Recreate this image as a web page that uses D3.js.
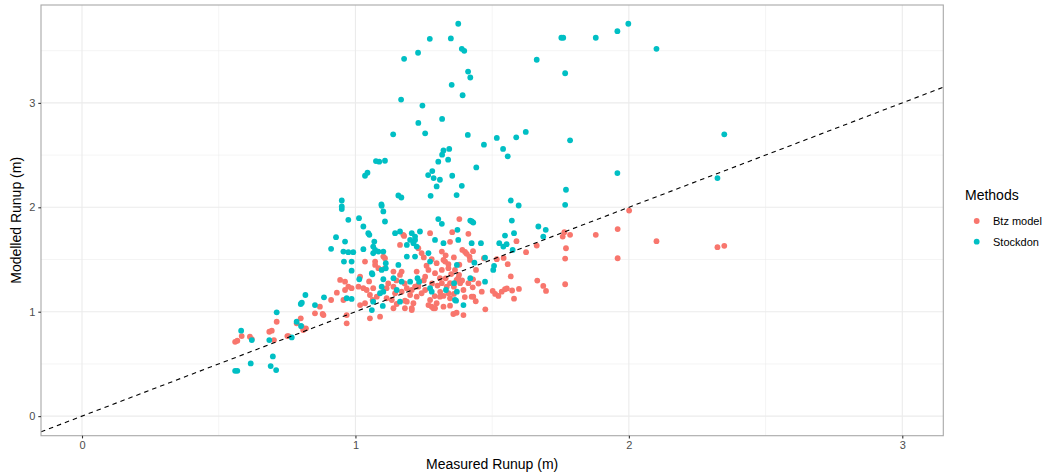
<!DOCTYPE html>
<html><head><meta charset="utf-8">
<script src="https://cdn.jsdelivr.net/npm/d3@7"></script>
<style>body{margin:0;background:#fff}svg{display:block;font-family:"Liberation Sans",Arial,sans-serif}</style>
</head><body><svg id="c" width="1047" height="475"></svg>
<script>
const seriesNames = ["Btz model", "Stockdon"];
const seriesColors = ["#F8766D", "#00BFC4"];
const xTicks = [0, 1, 2, 3];
const yTicks = [0, 1, 2, 3];
const xLimits = [0, 3];
const yLimits = [0, 3.75];
const xTitle = "Measured Runup (m)";
const yTitle = "Modelled Runup (m)";
const legendTitle = "Methods";

// [measured, modelled]
const btzPoints = [[2.001,1.969],[1.959,1.791],[1.959,1.512],[2.101,1.676],[2.324,1.618],[2.349,1.631],[1.879,1.736],[1.785,1.736],[1.758,1.720],[1.764,1.762],[1.770,1.608],[1.767,1.509],[1.767,1.263],[1.665,1.298],[1.687,1.247],[1.697,1.199],[1.663,1.633],[1.589,1.676],[1.624,1.570],[1.557,1.455],[1.542,1.515],[1.517,1.503],[1.568,1.338],[1.470,1.512],[1.441,1.400],[1.502,1.199],[1.511,1.170],[1.523,1.151],[1.535,1.192],[1.547,1.215],[1.554,1.223],[1.573,1.203],[1.580,1.125],[1.598,1.218],[1.475,1.023],[1.395,0.968],[1.358,0.978],[1.370,0.990],[1.425,1.144],[1.431,1.144],[1.462,1.192],[1.380,1.887],[1.413,1.746],[1.354,1.762],[1.346,1.669],[1.391,1.592],[1.401,1.573],[1.407,1.554],[1.417,1.528],[1.379,1.353],[1.370,1.304],[1.383,1.273],[1.395,1.208],[1.429,1.234],[1.413,1.273],[1.322,1.151],[1.346,1.129],[1.322,1.048],[1.285,1.033],[1.297,1.081],[1.322,1.496],[1.297,1.465],[1.316,1.400],[1.340,1.417],[1.291,1.369],[1.309,1.321],[1.346,1.273],[1.316,1.576],[1.273,1.752],[1.230,1.608],[1.242,1.560],[1.279,1.503],[1.328,1.480],[1.340,1.455],[1.419,1.496],[1.364,1.400],[1.376,1.321],[1.346,1.058],
[1.230,1.240],[1.242,1.177],[1.255,1.208],[1.224,1.144],[1.267,1.064],[1.279,1.048],[1.291,1.033],[1.273,1.112],[1.255,1.336],[1.267,1.400],[1.316,1.273],[1.334,1.240],[1.340,1.177],[1.309,1.144],
[1.175,1.736],[1.163,1.640],[1.035,1.480],[1.072,1.480],[1.108,1.512],[1.084,1.417],[1.108,1.417],[1.139,1.384],[1.169,1.384],[0.944,1.304],[0.962,1.288],[0.974,1.240],[0.962,1.208],[0.986,1.225],[1.011,1.240],[1.029,1.225],[1.041,1.208],[1.065,1.225],[1.053,1.160],[1.078,1.144],[1.114,1.225],[1.139,1.240],[1.145,1.177],[1.169,1.192],[1.188,1.225],[1.206,1.208],[1.218,1.240],[1.230,1.256],[0.956,1.112],[1.114,1.129],[1.133,1.112],[1.188,1.096],[1.212,1.081],[1.139,1.033],[1.181,1.033],[1.206,1.033],[0.968,0.968],[1.053,0.937],[1.090,0.952],[1.035,1.081],[1.017,1.336],
[1.072,1.448],[1.102,1.528],[1.163,1.352],[1.178,1.726],[1.224,1.384],[0.932,1.182],[0.968,0.889],[1.017,1.064],[1.063,1.112],[1.151,1.074],[1.181,1.106],[1.206,1.016],[0.870,1.048],[0.880,0.978],[0.852,0.985],[0.911,1.112],[0.785,0.889],[0.804,0.856],[0.809,0.824],[0.751,0.767],
[0.883,0.968],[0.800,0.937],[0.819,0.841],[0.712,0.904],[0.685,0.808],[0.694,0.818],[0.702,0.728],[0.755,0.767],[0.614,0.760],[0.621,0.738],[0.584,0.767],[0.560,0.712],[0.568,0.722],
[1.250,1.300],[1.280,1.270],[1.300,1.250],[1.330,1.320],[1.360,1.240],[1.390,1.300],[1.430,1.310],[1.450,1.270],[1.350,1.360],[1.260,1.440],[1.310,1.190],[1.290,1.150],[1.360,1.170],[1.400,1.140],[1.440,1.100],[1.200,1.160],[1.180,1.270],[1.150,1.300],[1.120,1.270],[1.050,1.290],[1.330,1.540],[1.360,1.520],[1.380,1.450],[1.250,1.520],[1.430,1.580]];

const stockdonPoints = [[1.376,3.758],[1.272,3.614],[1.349,3.617],[1.389,3.518],[1.398,3.499],[1.229,3.480],[1.178,3.422],[1.663,3.413],[1.753,3.624],[1.760,3.624],[1.879,3.624],[1.958,3.687],[1.998,3.758],[2.101,3.518],[1.767,3.284],[1.412,3.300],[1.420,3.243],[1.352,3.173],[1.392,3.073],[1.167,3.032],[1.245,2.974],[1.317,2.846],[1.230,2.808],[1.138,2.699],[1.255,2.708],[1.411,2.693],[1.470,2.600],[1.517,2.664],[1.588,2.670],[1.623,2.722],[1.540,2.559],[1.557,2.488],[1.785,2.641],[2.349,2.699],[1.343,2.559],[1.322,2.545],[1.317,2.504],[1.303,2.437],[1.339,2.456],[1.075,2.443],[1.087,2.437],[1.108,2.446],[1.035,2.302],[1.044,2.331],[1.442,2.382],[1.266,2.309],[1.281,2.347],[1.354,2.302],[1.958,2.328],[2.324,2.280],[1.286,2.280],[1.309,2.264],[1.297,2.200],[1.389,2.206],[1.370,2.117],[1.275,2.110],[1.157,2.113],[1.168,2.094],[1.095,2.027],[0.950,2.065],[1.770,2.168],[1.767,2.024],[1.568,2.065],[1.597,2.017],[1.572,1.873],[1.669,1.816],[1.696,1.784],[1.580,1.752],[1.547,1.729],[1.687,1.720],[1.526,1.656],[1.541,1.624],[1.553,1.647],[1.575,1.592],[1.507,1.439],[1.504,1.400],[1.474,1.288],[1.420,1.321],[1.426,1.865],[1.420,1.873],[1.431,1.854],[1.303,1.887],[1.316,1.842],[1.373,1.784],[1.236,1.768],[1.291,1.688],[1.322,1.656],[1.376,1.688],[1.425,1.656],[1.459,1.656],[1.218,1.688],[1.267,1.560],[1.273,1.480],[1.371,1.448],[1.435,1.470],[1.474,1.518],[1.233,1.288],[1.273,1.225],[1.279,1.192],[1.371,1.192],[1.364,1.112],[1.395,1.064],[1.368,1.106],[1.331,1.208],[1.361,1.273],
[0.950,2.008],[1.096,2.014],[1.102,1.960],[1.013,1.896],[1.029,1.816],[1.047,1.752],[1.051,1.736],[1.108,1.864],[1.145,1.752],[0.962,1.672],[0.956,1.576],[0.974,1.570],[0.992,1.570],[1.029,1.599],[1.065,1.624],[1.072,1.592],[1.084,1.576],[1.065,1.560],[1.102,1.576],[0.958,1.480],[0.986,1.480],[0.986,1.393],[1.060,1.369],[1.096,1.400],[1.157,1.448],[1.206,1.752],[1.218,1.720],[1.200,1.688],[1.212,1.656],[1.188,1.640],[1.224,1.624],[1.218,1.528],[1.139,1.321],[1.169,1.288],[1.200,1.288],[1.096,1.240],[1.090,1.177],[1.102,1.192],[0.968,1.129],[0.986,1.122],[1.065,1.096],[1.060,1.016],[1.163,1.096],[1.151,1.208],[1.227,1.321],
[0.950,1.983],[0.974,1.880],[0.929,1.714],[0.911,1.602],[1.069,1.672],[1.014,1.311],[1.062,1.359],[1.102,1.311],[1.111,1.465],[1.111,1.416],[1.100,1.055],[0.817,1.160],[0.800,1.074],[0.804,1.086],[0.852,1.064],[0.885,1.138],[0.712,0.994],[0.785,0.904],[0.801,0.863],[0.582,0.818],[0.621,0.728],[0.685,0.728],[0.698,0.572],[0.690,0.479],[0.710,0.441],[0.617,0.505],[0.560,0.434],[0.568,0.434],[0.767,0.754],[1.163,1.768],[1.188,1.528]];

const svg = d3.select("#c");
const panel = {left: 41, right: 943.3, top: 5, bottom: 435.7};
const xPad = (xLimits[1]-xLimits[0])*0.05, yPad = (yLimits[1]-yLimits[0])*0.05;
const x = d3.scaleLinear().domain([xLimits[0]-xPad, xLimits[1]+xPad]).range([panel.left, panel.right]);
const y = d3.scaleLinear().domain([yLimits[0]-yPad, yLimits[1]+yPad]).range([panel.bottom, panel.top]);

const g = svg.append("g");
const xMinor = d3.range(0.5, 3.2, 1), yMinor = d3.range(0.5, 3.9, 1);
g.selectAll(".xm").data(xMinor).join("line").attr("x1", d=>x(d)).attr("x2", d=>x(d)).attr("y1", panel.top).attr("y2", panel.bottom).attr("stroke", "#EBEBEB").attr("stroke-width", 0.55);
g.selectAll(".ym").data(yMinor).join("line").attr("y1", d=>y(d)).attr("y2", d=>y(d)).attr("x1", panel.left).attr("x2", panel.right).attr("stroke", "#EBEBEB").attr("stroke-width", 0.55);
g.selectAll(".xg").data(xTicks).join("line").attr("x1", d=>x(d)).attr("x2", d=>x(d)).attr("y1", panel.top).attr("y2", panel.bottom).attr("stroke", "#EBEBEB").attr("stroke-width", 1.1);
g.selectAll(".yg").data(yTicks).join("line").attr("y1", d=>y(d)).attr("y2", d=>y(d)).attr("x1", panel.left).attr("x2", panel.right).attr("stroke", "#EBEBEB").attr("stroke-width", 1.1);

svg.append("clipPath").attr("id","pc").append("rect").attr("x",panel.left).attr("y",panel.top).attr("width",panel.right-panel.left).attr("height",panel.bottom-panel.top);
const pts = svg.append("g").attr("clip-path","url(#pc)");
[[btzPoints, 0], [stockdonPoints, 1]].forEach(([arr, i]) => {
  pts.append("g").selectAll("circle").data(arr).join("circle")
    .attr("cx", d=>x(d[0])).attr("cy", d=>y(d[1])).attr("r", 2.9).attr("fill", seriesColors[i]);
});
const lineX = x.domain();
pts.append("line").attr("x1", x(lineX[0])).attr("y1", y(lineX[0])).attr("x2", x(lineX[1])).attr("y2", y(lineX[1]))
  .attr("stroke", "#000").attr("stroke-width", 1.1).attr("stroke-dasharray", "4.5,4");

svg.append("rect").attr("x", panel.left).attr("y", panel.top).attr("width", panel.right-panel.left).attr("height", panel.bottom-panel.top)
  .attr("fill","none").attr("stroke","#A8A8A8").attr("stroke-width",1.1);

const xAxis = svg.append("g").attr("transform", `translate(0,${panel.bottom})`)
  .call(d3.axisBottom(x).tickValues(xTicks).tickSize(2.7).tickPadding(3).tickFormat(d3.format("d")));
const yAxis = svg.append("g").attr("transform", `translate(${panel.left},0)`)
  .call(d3.axisLeft(y).tickValues(yTicks).tickSize(2.7).tickPadding(3).tickFormat(d3.format("d")));
[xAxis, yAxis].forEach(a => {
  a.select(".domain").remove();
  a.selectAll(".tick line").attr("stroke", "#333333").attr("stroke-width", 1.1);
  a.selectAll(".tick text").attr("fill", "#4D4D4D").style("font-size", "11px").style("font-family", '"Liberation Sans",Arial,sans-serif');
});

svg.append("text").attr("x", (panel.left+panel.right)/2).attr("y", 469).attr("text-anchor","middle")
  .style("font-size","14px").attr("fill","#000").text(xTitle);
svg.append("text").attr("transform", `translate(21,${(panel.top+panel.bottom)/2}) rotate(-90)`).attr("text-anchor","middle")
  .style("font-size","14px").attr("fill","#000").text(yTitle);

const lg = svg.append("g");
lg.append("text").attr("x", 965).attr("y", 200).style("font-size","14px").attr("fill","#000").text(legendTitle);
seriesNames.forEach((n, i) => {
  const cy = 221 + i*20.7;
  lg.append("circle").attr("cx", 976.7).attr("cy", cy).attr("r", 2.9).attr("fill", seriesColors[i]);
  lg.append("text").attr("x", 993).attr("y", cy + 4).style("font-size","11px").attr("fill","#000").text(n);
});
</script></body></html>
